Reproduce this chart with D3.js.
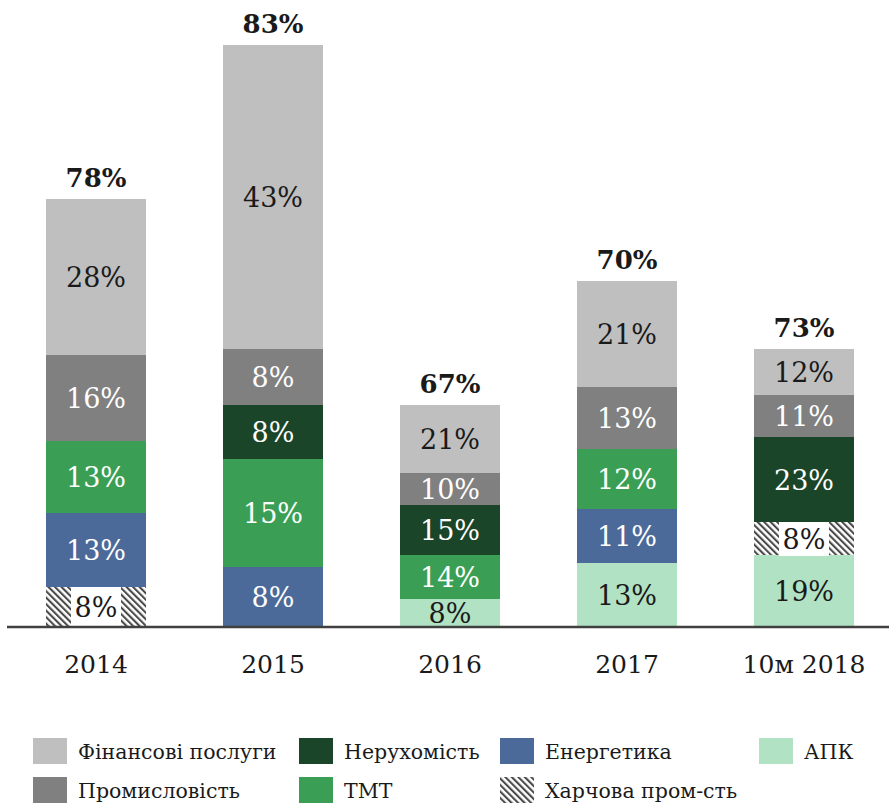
<!DOCTYPE html>
<html>
<head>
<meta charset="utf-8">
<script src="https://cdn.jsdelivr.net/npm/d3@7"></script>
<style>
body { margin: 0; background: #fff; }
svg { display: block; font-family: "DejaVu Serif", serif; }
</style>
</head>
<body>
<svg id="chart" width="889" height="805"></svg>
<script>
// categories (years)
var years = ['2014', '2015', '2016', '2017', '10м 2018'];
// sectors, bottom to top of stack
var sectors = ['АПК', 'Харчова пром-сть', 'Енергетика', 'ТМТ', 'Нерухомість', 'Промисловість', 'Фінансові послуги'];
var sectorColors = ['#b2e2c4', 'hatch', '#4b6a99', '#3a9f55', '#1a4529', '#808080', '#bfbfbf'];
var labelColors = ['#1a1a1a', '#1a1a1a', '#fff', '#fff', '#fff', '#fff', '#1a1a1a'];

// bar segment volumes (relative units)
var apk      = [0, 0, 28, 64, 72];
var food     = [40, 0, 0, 0, 33];
var energy   = [74, 60, 0, 54, 0];
var tmt      = [72, 108, 44, 60, 0];
var realty   = [0, 54, 50, 0, 85];
var industry = [86, 56, 32, 62, 42];
var finance  = [156, 304, 68, 106, 46];

// share labels shown in segments
var apkPct      = [null, null, '8%', '13%', '19%'];
var foodPct     = ['8%', null, null, null, '8%'];
var energyPct   = ['13%', '8%', null, '11%', null];
var tmtPct      = ['13%', '15%', '14%', '12%', null];
var realtyPct   = [null, '8%', '15%', null, '23%'];
var industryPct = ['16%', '8%', '10%', '13%', '11%'];
var financePct  = ['28%', '43%', '21%', '21%', '12%'];

var totals = ['78%', '83%', '67%', '70%', '73%'];

var seriesVals = [apk, food, energy, tmt, realty, industry, finance];
var seriesPct = [apkPct, foodPct, energyPct, tmtPct, realtyPct, industryPct, financePct];

// legend order
var legendRows = [
  ['Фінансові послуги', 'Нерухомість', 'Енергетика', 'АПК'],
  ['Промисловість', 'ТМТ', 'Харчова пром-сть']
];
var legendX = [33, 299, 500, 759];
var legendY = [738, 777];

var svg = d3.select('#chart');

var defs = svg.append('defs');
var pat = defs.append('pattern')
  .attr('id', 'hatch')
  .attr('patternUnits', 'userSpaceOnUse')
  .attr('width', 4.6)
  .attr('height', 4.6)
  .attr('patternTransform', 'rotate(-45)');
pat.append('rect').attr('width', 4.6).attr('height', 4.6).attr('fill', '#fff');
pat.append('rect').attr('width', 2.1).attr('height', 4.6).attr('fill', '#4a4a4a');

function fillOf(i) {
  return sectorColors[i] === 'hatch' ? 'url(#hatch)' : sectorColors[i];
}

var baseY = 627;

var x = d3.scaleBand()
  .domain(years)
  .range([7.5, 892.5])
  .paddingInner(0.435)
  .paddingOuter(0.2175);

var y = d3.scaleLinear()
  .domain([0, 582])
  .range([baseY, 45]);

// build stacked table
var table = years.map(function (yr, j) {
  var row = { year: yr };
  sectors.forEach(function (s, i) { row[s] = seriesVals[i][j]; });
  return row;
});
var stacked = d3.stack().keys(sectors)(table);

var layers = svg.append('g').selectAll('g')
  .data(stacked)
  .enter()
  .append('g');

layers.each(function (layer, i) {
  var g = d3.select(this);
  layer.forEach(function (d, j) {
    if (d[1] - d[0] <= 0) return;
    var x0 = x(years[j]);
    var bw = x.bandwidth();
    g.append('rect')
      .attr('x', x0)
      .attr('y', y(d[1]))
      .attr('width', bw)
      .attr('height', y(d[0]) - y(d[1]))
      .attr('fill', fillOf(i));
    var lbl = seriesPct[i][j];
    if (!lbl) return;
    var cy = (y(d[0]) + y(d[1])) / 2;
    if (sectorColors[i] === 'hatch') {
      g.append('rect')
        .attr('x', x0 + bw / 2 - 25)
        .attr('y', y(d[1]) - 1)
        .attr('width', 50)
        .attr('height', y(d[0]) - y(d[1]) + 2)
        .attr('fill', '#fff');
    }
    g.append('text')
      .attr('x', x0 + bw / 2)
      .attr('y', cy + 10)
      .attr('text-anchor', 'middle')
      .style('font-size', '27px')
      .style('fill', labelColors[i])
      .text(lbl);
  });
});

// totals above bars
var topLayer = stacked[stacked.length - 1];
svg.append('g').selectAll('text')
  .data(years)
  .enter()
  .append('text')
  .attr('x', function (d) { return x(d) + x.bandwidth() / 2; })
  .attr('y', function (d, j) { return y(topLayer[j][1]) - 12; })
  .attr('text-anchor', 'middle')
  .style('font-size', '26px')
  .style('font-weight', 'bold')
  .style('fill', '#1a1a1a')
  .text(function (d, j) { return totals[j]; });

// axis
var axis = svg.append('g')
  .attr('transform', 'translate(0,' + baseY + ')')
  .call(d3.axisBottom(x).tickSize(0).tickPadding(28));
axis.select('.domain').remove();
axis.append('line')
  .attr('x1', 7).attr('x2', 889)
  .attr('stroke', '#404040')
  .attr('stroke-width', 2.5);
axis.selectAll('.tick text')
  .attr('font-family', '"DejaVu Serif", serif')
  .style('font-size', '25px')
  .style('fill', '#1a1a1a');

// legend
var leg = svg.append('g');
legendRows.forEach(function (row, r) {
  row.forEach(function (name, c) {
    var i = sectors.indexOf(name);
    leg.append('rect')
      .attr('x', legendX[c])
      .attr('y', legendY[r])
      .attr('width', 34)
      .attr('height', 26)
      .attr('fill', fillOf(i));
    leg.append('text')
      .attr('x', legendX[c] + 45)
      .attr('y', legendY[r] + 21)
      .style('font-size', '20.5px')
      .style('fill', '#1a1a1a')
      .text(name);
  });
});
</script>
</body>
</html>
